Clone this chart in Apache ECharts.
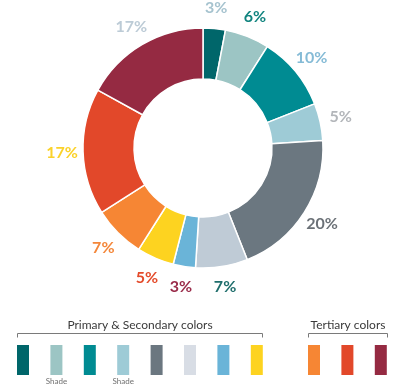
<!DOCTYPE html>
<html>
<head>
<meta charset="utf-8">
<style>
  html, body { margin: 0; padding: 0; background: #ffffff; }
  #chart { width: 400px; height: 390px; }
</style>
<script src="https://cdn.jsdelivr.net/npm/echarts@6/dist/echarts.min.js"></script>
</head>
<body>
<div id="chart"></div>
<script>
// Palette shares, clockwise from 12 o'clock
const sliceNames = ['Dark teal', 'Teal shade', 'Teal', 'Blue shade', 'Slate', 'Mist', 'Sky blue', 'Yellow', 'Orange', 'Red', 'Maroon'];
const sliceValues = [3, 6, 10, 5, 20, 7, 3, 5, 7, 17, 17];
const sliceColors = ['#00666a', '#9cc5c4', '#008b92', '#9ecbd6', '#6b7780', '#bfcbd6', '#6ab4d8', '#fdd320', '#f68634', '#e2482a', '#952a42'];
const labelColors = ['#a6c3cf', '#11847f', '#85bbd6', '#b3b6ba', '#6b7177', '#1f6e6c', '#9a2c4a', '#e44b2b', '#f4873a', '#fbd22a', '#bccbd6'];

// Swatch strip below the ring
const primaryColors = ['#00666a', '#9cc5c4', '#008b92', '#9ecbd6', '#6b7780', '#d8dde5', '#6ab4d8', '#fdd320'];
const primaryNotes = ['', 'Shade', '', 'Shade', '', '', '', ''];
const tertiaryColors = ['#f68634', '#e2482a', '#952a42'];
const primaryTitle = 'Primary & Secondary colors';
const tertiaryTitle = 'Tertiary colors';

const chart = echarts.init(document.getElementById('chart'), null, { renderer: 'canvas' });

const CENTER = [203, 148];
const FONT = 'Lato, "Open Sans", sans-serif';

const ringData = sliceNames.map((n, i) => ({
  name: n,
  value: sliceValues[i],
  itemStyle: { color: sliceColors[i] }
}));

// Transparent outer ring that carries the percentage labels centred on each slice
const labelData = sliceNames.map((n, i) => ({
  name: n,
  value: sliceValues[i],
  itemStyle: { color: 'rgba(0,0,0,0)' },
  label: { color: labelColors[i] }
}));

// Swatch graphics
const SW_W = 12, SW_H = 30, SW_Y = 345, STEP = 33.4;
const graphics = [];
primaryColors.forEach((c, i) => {
  const x = 17 + i * STEP;
  graphics.push({ type: 'rect', shape: { x: x, y: SW_Y, width: SW_W, height: SW_H }, style: { fill: c }, silent: true });
  if (primaryNotes[i]) {
    graphics.push({ type: 'text', x: x + SW_W / 2, y: 381, style: { text: primaryNotes[i], fill: '#6f6f6f', font: '8px ' + FONT, textAlign: 'center', textVerticalAlign: 'middle' }, silent: true });
  }
});
tertiaryColors.forEach((c, i) => {
  const x = 308 + i * STEP;
  graphics.push({ type: 'rect', shape: { x: x, y: SW_Y, width: SW_W, height: SW_H }, style: { fill: c }, silent: true });
});

function bracket(x1, x2, y) {
  return {
    type: 'polyline',
    shape: { points: [[x1, y + 4], [x1, y], [x2, y], [x2, y + 4]] },
    style: { stroke: '#7a7a7a', lineWidth: 1, fill: null },
    silent: true
  };
}
graphics.push(bracket(17.5, 262.5, 333.5));
graphics.push(bracket(308.5, 387.5, 333.5));
graphics.push({ type: 'text', x: 140, y: 325, style: { text: primaryTitle, fill: '#3a3a3a', font: '12px ' + FONT, textAlign: 'center', textVerticalAlign: 'middle' }, silent: true });
graphics.push({ type: 'text', x: 348, y: 325, style: { text: tertiaryTitle, fill: '#3a3a3a', font: '12px ' + FONT, textAlign: 'center', textVerticalAlign: 'middle' }, silent: true });

chart.setOption({
  animation: false,
  backgroundColor: '#ffffff',
  series: [
    {
      type: 'pie',
      center: CENTER,
      radius: [69, 120],
      startAngle: 90,
      clockwise: true,
      silent: true,
      label: { show: false },
      labelLine: { show: false },
      itemStyle: { borderColor: '#ffffff', borderWidth: 1.5 },
      data: ringData
    },
    {
      type: 'pie',
      center: CENTER,
      radius: [124, 152],
      startAngle: 90,
      clockwise: true,
      silent: true,
      labelLine: { show: false },
      label: {
        show: true,
        position: 'inside',
        formatter: '{c}%',
        fontFamily: FONT,
        fontWeight: 'bold',
        fontSize: 16
      },
      data: labelData
    }
  ],
  graphic: graphics
});
</script>
</body>
</html>
